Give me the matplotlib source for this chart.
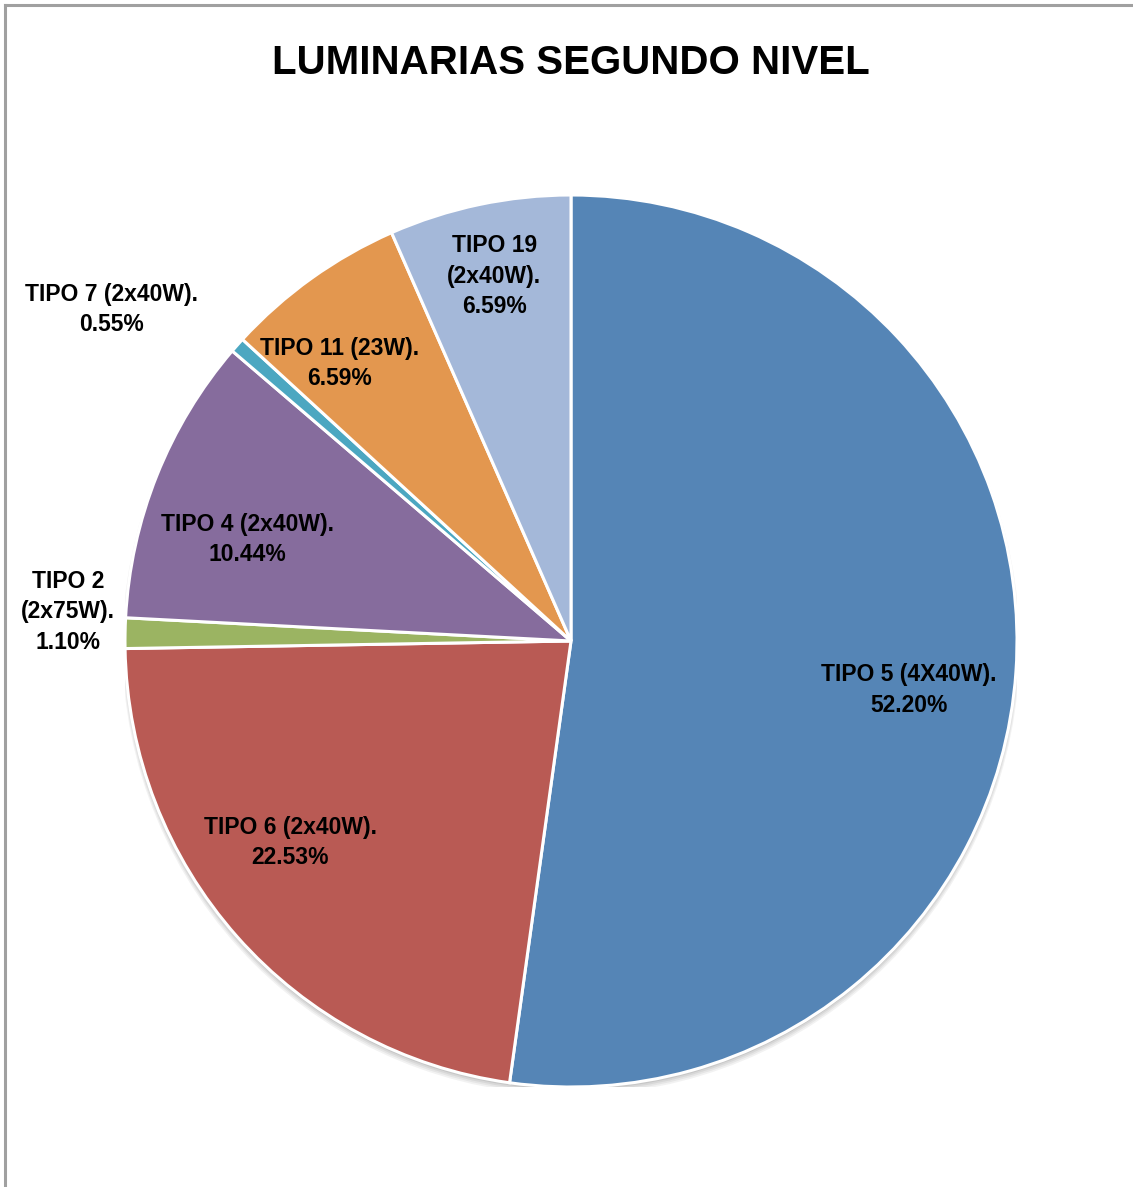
import numpy as np
import matplotlib
matplotlib.use("Agg")
import matplotlib.pyplot as plt
from matplotlib.lines import Line2D
from matplotlib.patches import Circle

# datos del gráfico
tipos = ["TIPO 5 (4X40W).", "TIPO 6 (2x40W).", "TIPO 2\n(2x75W).", "TIPO 4 (2x40W).",
         "TIPO 7 (2x40W).", "TIPO 11 (23W).", "TIPO 19\n(2x40W)."]
porcentajes = [52.20, 22.53, 1.10, 10.44, 0.55, 6.59, 6.59]
colores = ["#5585B6", "#B95A54", "#9BB462", "#866C9D", "#4CA7C1", "#E3974F", "#A4B8D9"]

# posición de las etiquetas (radio relativo y giro en grados)
radio_etq = [0.765, 0.775, 1.13, 0.76, 1.27, 0.81, 0.836]
giro_etq = [-4.3, -5.9, -2.3, 4.4, 5.7, 4.2, 0.0]

FUENTE = ["Liberation Sans", "DejaVu Sans"]

W, H = 1133, 1187
fig = plt.figure(figsize=(W / 100, H / 100), dpi=100)
fig.patch.set_facecolor("white")

# marco del área del gráfico
fig.add_artist(Line2D([5 / W, 1.0], [1 - 5 / H, 1 - 5 / H], color="#A0A0A0", lw=2.2))
fig.add_artist(Line2D([5 / W, 5 / W], [0.0, 1 - 5 / H], color="#A0A0A0", lw=2.2))

cx, cy, r = 571, 641, 446
ax = fig.add_axes([(cx - r) / W, (H - cy - r) / H, 2 * r / W, 2 * r / H])

# sombra suave bajo la torta
for i, a in enumerate([0.05, 0.05, 0.06, 0.08]):
    ax.add_patch(Circle((0, -0.012 + i * 0.002), 1.0 + 0.006 - i * 0.002,
                        color="black", alpha=a, lw=0, zorder=0))

wedges, _ = ax.pie(porcentajes, colors=colores, startangle=90, counterclock=False,
                   radius=1.0, wedgeprops=dict(edgecolor="white", linewidth=2.2))
for w in wedges:
    w.set_zorder(1)

ax.set_xlim(-1, 1)
ax.set_ylim(-1, 1)
ax.set_aspect("equal")
ax.axis("off")

for w, txt, p, rr, g in zip(wedges, tipos, porcentajes, radio_etq, giro_etq):
    ang = np.deg2rad((w.theta1 + w.theta2) / 2 + g)
    ax.text(rr * np.cos(ang), rr * np.sin(ang), f"{txt}\n{p:.2f}%",
            ha="center", va="center", fontsize=16.5, fontweight="bold",
            family=FUENTE, linespacing=1.4, zorder=3, clip_on=False)

fig.text(571 / W, 1 - 63 / H, "LUMINARIAS SEGUNDO NIVEL", ha="center", va="center",
         fontsize=29, fontweight="bold", family=FUENTE)

fig.savefig("out.png", dpi=100)
